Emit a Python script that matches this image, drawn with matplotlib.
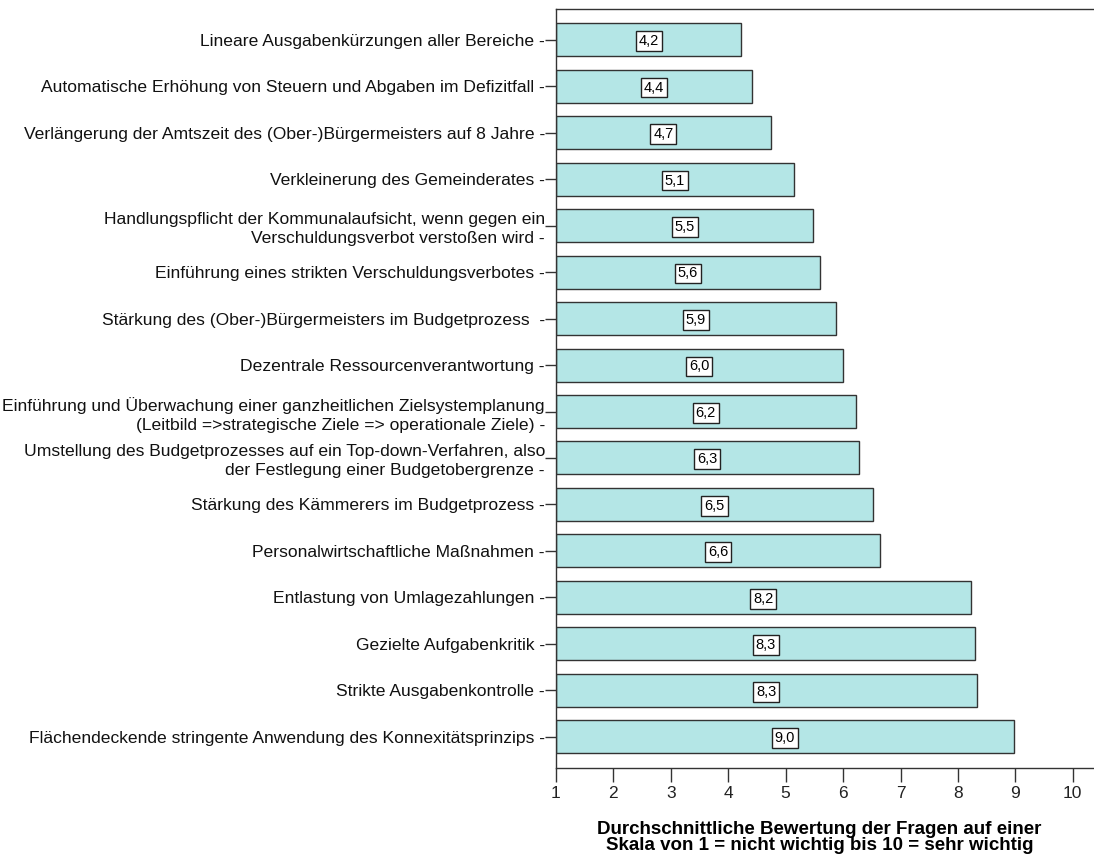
import matplotlib.pyplot as plt

# Daten (von oben nach unten)
fragen = [
    "Lineare Ausgabenkürzungen aller Bereiche",
    "Automatische Erhöhung von Steuern und Abgaben im Defizitfall",
    "Verlängerung der Amtszeit des (Ober-)Bürgermeisters auf 8 Jahre",
    "Verkleinerung des Gemeinderates",
    "Handlungspflicht der Kommunalaufsicht, wenn gegen ein\nVerschuldungsverbot verstoßen wird",
    "Einführung eines strikten Verschuldungsverbotes",
    "Stärkung des (Ober-)Bürgermeisters im Budgetprozess ",
    "Dezentrale Ressourcenverantwortung",
    "Einführung und Überwachung einer ganzheitlichen Zielsystemplanung\n(Leitbild =>strategische Ziele => operationale Ziele)",
    "Umstellung des Budgetprozesses auf ein Top-down-Verfahren, also\nder Festlegung einer Budgetobergrenze",
    "Stärkung des Kämmerers im Budgetprozess",
    "Personalwirtschaftliche Maßnahmen",
    "Entlastung von Umlagezahlungen",
    "Gezielte Aufgabenkritik",
    "Strikte Ausgabenkontrolle",
    "Flächendeckende stringente Anwendung des Konnexitätsprinzips",
]
mittelwerte = [4.23, 4.42, 4.74, 5.14, 5.48, 5.60, 5.87, 5.99,
               6.22, 6.27, 6.52, 6.64, 8.22, 8.30, 8.33, 8.97]
x_ticks = list(range(1, 11))

plt.rcParams['font.family'] = ['Liberation Sans', 'DejaVu Sans']

fig = plt.figure(figsize=(10.94, 8.57), dpi=100)
ax = fig.add_axes([556 / 1094, 1 - 768 / 857, 1 - 556 / 1094, (768 - 9) / 857])

pos = list(range(len(fragen)))
breite = [v - 1 for v in mittelwerte]
ax.barh(pos, breite, left=1, height=0.71, color="#b4e6e6",
        edgecolor="#333333", linewidth=1.0, zorder=2)

# Wertbeschriftungen in der Mitte der Balken
for p, v in zip(pos, mittelwerte):
    ax.text((1 + v) / 2, p + 0.03, f"{v:.1f}".replace(".", ","),
            ha="center", va="center", fontsize=10.5, zorder=3,
            bbox=dict(boxstyle="square,pad=0.2", fc="white", ec="#222222", lw=1))

ax.set_ylim(len(fragen) - 1 + 0.67, -0.66)
ax.set_xlim(1, 10.37)
ax.set_yticks(pos)
ax.set_yticklabels([f + " -" for f in fragen], fontsize=12.6, linespacing=1.3,
                   color="#111111")
ax.set_xticks(x_ticks)
ax.set_xticklabels([str(t) for t in x_ticks], fontsize=12.5, color="#222222")

ax.tick_params(axis="y", length=8, width=1, pad=0, color="#333333")
ax.tick_params(axis="x", length=10, width=1, pad=3, color="#333333")

ax.spines["right"].set_visible(False)
for s in ["left", "top", "bottom"]:
    ax.spines[s].set_color("#333333")
    ax.spines[s].set_linewidth(1)

ax.set_xlabel("Durchschnittliche Bewertung der Fragen auf einer\n"
              "Skala von 1 = nicht wichtig bis 10 = sehr wichtig",
              fontsize=13.5, fontweight="bold", linespacing=0.95)
ax.xaxis.set_label_coords(0.49, -0.07)

fig.savefig("out.png", dpi=100)
